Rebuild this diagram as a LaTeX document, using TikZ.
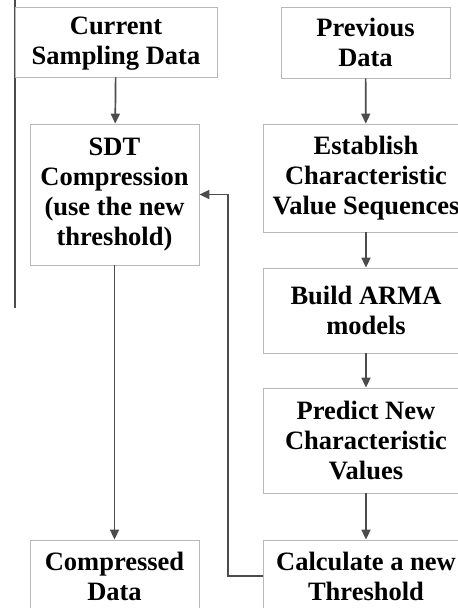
\documentclass[tikz,border=0pt]{standalone}
\usepackage{fontspec}
\setmainfont{Liberation Serif}
\usetikzlibrary{arrows.meta}

\begin{document}
\begin{tikzpicture}[x=1pt, y=-1pt,
    box/.style={draw=black!28, line width=0.8pt, align=center, inner sep=0pt,
        font=\fontsize{26.5}{30}\selectfont\bfseries},
    flow/.style={-{Triangle[length=10pt, width=9pt]}, line width=1.7pt, draw=black!70}]
    \useasboundingbox (0, 0) rectangle (458, 608);
    \clip (0, 0) rectangle (458, 608);

    % left column
    \draw[line width=1.7pt, black!70] (15, 0) -- (15, 308);
    \node[box, minimum width=202pt, minimum height=70pt, text depth=2pt] (cur) at (116, 42) {Current\\Sampling Data};
    \node[box, minimum width=169pt, minimum height=141pt] (sdt) at (114.5, 194.5) {SDT\\Compression\\(use the new\\threshold)};
    \node[box, minimum width=169pt, minimum height=72pt] (comp) at (114.5, 576) {Compressed\\Data};

    % right column
    \node[box, minimum width=169pt, minimum height=71pt] (prev) at (365.5, 42.5) {Previous\\Data};
    \node[box, minimum width=206pt, minimum height=108pt] (est) at (366, 178) {Establish\\Characteristic\\Value Sequences};
    \node[box, minimum width=206pt, minimum height=85pt] (arma) at (366, 310.5) {Build ARMA\\models};
    \node[box, minimum width=206pt, minimum height=105pt] (pred) at (366, 440.5) {Predict New\\Characteristic\\Values};
    \node[box, minimum width=206pt, minimum height=72pt] (calc) at (366, 576) {Calculate a new\\Threshold};

    \draw[flow] (cur) -- (sdt);
    \draw[flow] (sdt) -- (comp);
    \draw[flow] (prev) -- (est);
    \draw[flow] (est) -- (arma);
    \draw[flow] (arma) -- (pred);
    \draw[flow] (pred) -- (calc);

    % feedback of the new threshold
    \coordinate (turn) at (228, 194.5);
    \draw[flow] (calc.west) -| (turn) -- (sdt.east);
\end{tikzpicture}
\end{document}
